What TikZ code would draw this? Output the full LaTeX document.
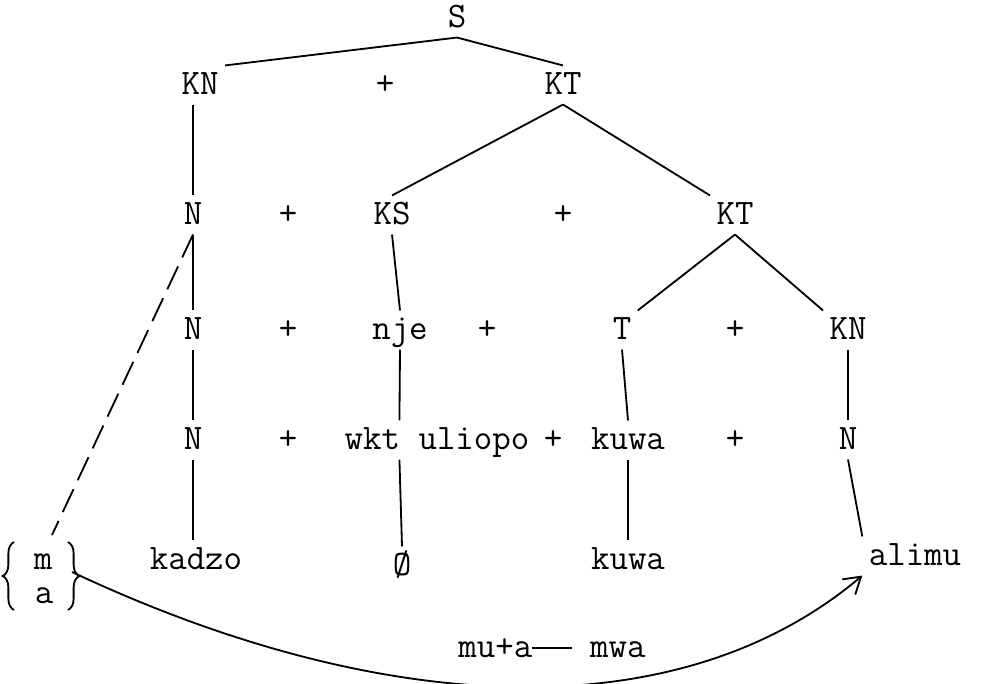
\documentclass[tikz,border=0pt]{standalone}
\usepackage{fontspec}
\usetikzlibrary{calc}
\usetikzlibrary{arrows.meta}
\usetikzlibrary{decorations.pathreplacing}

\begin{document}
\begin{tikzpicture}[x=0.025cm, y=-0.025cm, line width=1.3pt,
  lbl/.style={font=\ttfamily\fontsize{25.5}{30}\selectfont, inner sep=4pt, text height=0.55cm, text depth=0.1cm}]
\useasboundingbox (0,0) rectangle (1001,684);

\node[lbl] (s) at (457,18) {S};

\node[lbl] (kn) at (200,85) {KN};
\node[lbl] (p1) at (385,85) {+};
\node[lbl] (kt) at (563,85) {KT};

\node[lbl] (n1) at (193,215) {N};
\node[lbl] (p2) at (288,215) {+};
\node[lbl] (ks) at (392,215) {KS};
\node[lbl] (p3) at (563,215) {+};
\node[lbl] (kt2) at (735,215) {KT};

\node[lbl] (n2) at (193,330) {N};
\node[lbl] (p4) at (288,330) {+};
\node[lbl] (nje) at (400,330) {nje};
\node[lbl] (p5) at (487,330) {+};
\node[lbl] (t) at (622,330) {T};
\node[lbl] (p6) at (735,330) {+};
\node[lbl] (kn2) at (848,330) {KN};

\node[lbl] (n3) at (193,440) {N};
\node[lbl] (p7) at (288,440) {+};
\node[lbl] (wkt) at (437,440) {wkt uliopo};
\node[lbl] (p8) at (553,440) {+};
\node[lbl] (kuwa) at (628,440) {kuwa};
\node[lbl] (p9) at (735,440) {+};
\node[lbl] (n4) at (848,440) {N};

\node[lbl] (kadzo) at (196,560) {kadzo};
\node[lbl] (zero) at (402,566) {Ø};
\node[lbl] (kuwa2) at (628,560) {kuwa};
\node[lbl] (alimu) at (915,556) {alimu};

\node[lbl] (m) at (43,560) {m};
\node[lbl] (a) at (44,594) {a};
\node[lbl] (rule) at (552,648) {mu+a\rule[0.22em]{1.1em}{0.05em} mwa};

\coordinate (dashend) at (52,535);
\coordinate (curvestart) at (72,572);

\draw (s.south) -- (kn.north east);
\draw (s.south) -- (kt.north);
\draw (kn.south -| n1) -- (n1.north);
\draw (kt.south) -- (ks.north);
\draw (kt.south) -- (kt2.north west);

\draw (n1.south) -- (n2.north);
\draw (n2.south) -- (n3.north);
\draw (n3.south) -- (kadzo.north -| n3);
\draw[dash pattern=on 18pt off 7pt] (n1.south) -- (dashend);

\draw (ks.south) -- (nje.north);
\draw (nje.south) -- ($(wkt.north west)!0.31!(wkt.north east)$);
\draw ($(wkt.south west)!0.31!(wkt.south east)$) -- (zero.north);

\draw (kt2.south) -- (t.north east);
\draw (kt2.south) -- (kn2.north west);
\draw (t.south) -- (kuwa.north);
\draw (kuwa.south) -- (kuwa2.north);
\draw (kn2.south) -- (n4.north);
\draw (n4.south) -- (alimu.north west);

\draw[decorate, decoration={brace, amplitude=8pt}] (14,610) -- (14,542);
\draw[decorate, decoration={brace, amplitude=8pt}] (68,542) -- (68,610);

\draw[-{Straight Barb[length=4mm, width=5mm]}] (curvestart) .. controls (387,720) and (681,729) .. (alimu.south west);

\end{tikzpicture}
\end{document}
